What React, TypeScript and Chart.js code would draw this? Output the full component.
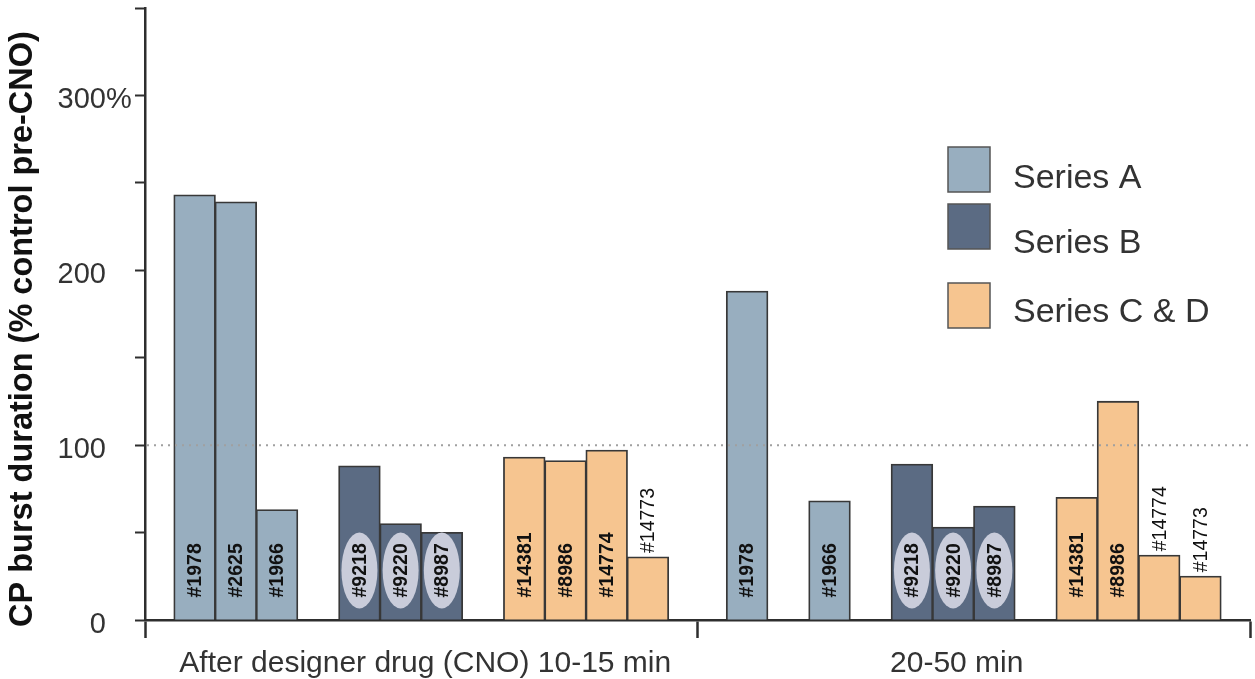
import React, { useEffect, useRef } from "react";
import { Chart, registerables } from "chart.js";

Chart.register(...registerables);

// ---------- data ----------
const categories = ["After designer drug (CNO) 10-15 min", "20-50 min"];

const seriesAIds = ["#1978", "#2625", "#1966"];
const seriesA_10_15 = [243, 239, 63];
const seriesA_20_50 = [188, null, 68];

const seriesBIds = ["#9218", "#9220", "#8987"];
const seriesB_10_15 = [88, 55, 50];
const seriesB_20_50 = [89, 53, 65];

const seriesCIds = ["#14381", "#8986", "#14774", "#14773"];
const seriesC_10_15 = [93, 91, 97, 36];
const seriesC_20_50 = [70, 125, 37, 25];

const legendLabels = ["Series A", "Series B", "Series C & D"];
const yTickValues = [0, 100, 200, 300];
const yTickLabels = ["0", "100", "200", "300"];
const referenceValue = 100;
const yTitle = "CP burst duration (% control pre-CNO)";

// ---------- style ----------
const FONT = "'Liberation Sans', Arial, Helvetica, sans-serif";
const colorA = "#98aebf";
const colorB = "#5b6b83";
const colorC = "#f6c590";
const legendColors = [colorA, colorB, colorC];
const barBorder = "#383838";
const ellipseColor = "#c9ccda";
const axisColor = "#2e2e2e";
const xLabelShift = [4, -17];

type Group = { key: string; ids: string[]; p1: (number | null)[]; p2: (number | null)[]; color: string };

const groups: Group[] = [
  { key: "A", ids: seriesAIds, p1: seriesA_10_15, p2: seriesA_20_50, color: colorA },
  { key: "B", ids: seriesBIds, p1: seriesB_10_15, p2: seriesB_20_50, color: colorB },
  { key: "C", ids: seriesCIds, p1: seriesC_10_15, p2: seriesC_20_50, color: colorC },
];

function buildDatasets() {
  const out: any[] = [];
  groups.forEach((g, gi) => {
    if (gi > 0) {
      out.push({ label: "", data: [null, null], spacer: true });
    }
    g.ids.forEach((id, j) => {
      out.push({
        label: id,
        data: [g.p1[j], g.p2[j]],
        backgroundColor: g.color,
        borderColor: barBorder,
        borderWidth: 1.8,
        inflateAmount: 0.6,
        seriesKey: g.key,
      });
    });
  });
  return out;
}

const decorPlugin = {
  id: "decor",
  afterDatasetsDraw(chart: any) {
    const ctx = chart.ctx as CanvasRenderingContext2D;
    const yScale = chart.scales.y;
    const area = chart.chartArea;

    // dotted reference line
    const ry = yScale.getPixelForValue(referenceValue);
    ctx.save();
    ctx.strokeStyle = "#a0a0a0";
    ctx.lineWidth = 2;
    ctx.setLineDash([2, 5]);
    ctx.beginPath();
    ctx.moveTo(area.left + 2, ry);
    ctx.lineTo(area.right, ry);
    ctx.stroke();
    ctx.restore();

    // bar labels
    chart.data.datasets.forEach((ds: any, di: number) => {
      if (ds.spacer) return;
      const meta = chart.getDatasetMeta(di);
      meta.data.forEach((bar: any, i: number) => {
        const v = ds.data[i];
        if (v == null) return;
        const p = bar.getProps(["x", "y", "base"], true);
        const h = p.base - p.y;
        const inside = h >= 80;
        ctx.save();
        if (inside && ds.seriesKey === "B") {
          ctx.fillStyle = ellipseColor;
          ctx.beginPath();
          ctx.ellipse(p.x, p.base - 49, 18, 38, 0, 0, Math.PI * 2);
          ctx.fill();
        }
        const startY = inside ? p.base - 22 : p.y - 4;
        ctx.translate(p.x, startY);
        ctx.rotate(-Math.PI / 2);
        ctx.textAlign = "left";
        ctx.textBaseline = "middle";
        ctx.fillStyle = "#111";
        ctx.font = (inside ? "bold " : "") + "19.5px " + FONT;
        ctx.fillText(ds.label, 0, 1);
        ctx.restore();
      });
    });
  },
  afterDraw(chart: any) {
    const ctx = chart.ctx as CanvasRenderingContext2D;
    const yScale = chart.scales.y;
    const xScale = chart.scales.x;

    // y tick labels (number right-aligned, % hanging)
    ctx.save();
    ctx.fillStyle = "#333";
    ctx.font = "29px " + FONT;
    ctx.textBaseline = "middle";
    yTickValues.forEach((v, i) => {
      const y = yScale.getPixelForValue(v) + 5;
      ctx.textAlign = "right";
      ctx.fillText(yTickLabels[i], 106, y);
      if (i === yTickValues.length - 1) {
        ctx.textAlign = "left";
        ctx.fillText("%", 106, y);
      }
    });
    ctx.restore();

    // x category labels
    ctx.save();
    ctx.fillStyle = "#333";
    ctx.font = "30px " + FONT;
    ctx.textAlign = "center";
    ctx.textBaseline = "middle";
    categories.forEach((c, i) => {
      ctx.fillText(c, xScale.getPixelForValue(i) + xLabelShift[i], 664);
    });
    ctx.restore();

    // y title
    ctx.save();
    ctx.translate(23, 329);
    ctx.rotate(-Math.PI / 2);
    ctx.textAlign = "center";
    ctx.textBaseline = "middle";
    ctx.fillStyle = "#111";
    ctx.font = "bold 32.5px " + FONT;
    ctx.fillText(yTitle, 0, 0);
    ctx.restore();

    // legend
    const boxX = 948;
    const boxTops = [147, 204, 283];
    const textYs = [179, 244, 313];
    ctx.save();
    legendLabels.forEach((lab, i) => {
      ctx.fillStyle = legendColors[i];
      ctx.fillRect(boxX, boxTops[i], 42, 45);
      ctx.strokeStyle = "#555";
      ctx.lineWidth = 1.5;
      ctx.strokeRect(boxX, boxTops[i], 42, 45);
      ctx.fillStyle = "#333";
      ctx.font = "34px " + FONT;
      ctx.textAlign = "left";
      ctx.textBaseline = "middle";
      ctx.fillText(lab, 1013, textYs[i]);
    });
    ctx.restore();
  },
};

export default function App() {
  const ref = useRef<HTMLCanvasElement | null>(null);
  useEffect(() => {
    if (!ref.current) return;
    const chart = new Chart(ref.current, {
      type: "bar",
      data: { labels: categories, datasets: buildDatasets() },
      options: {
        animation: false,
        responsive: true,
        maintainAspectRatio: false,
        layout: { padding: { left: 0, right: 5, top: 8, bottom: 0 } },
        plugins: { legend: { display: false }, tooltip: { enabled: false } },
        datasets: { bar: { categoryPercentage: 0.895, barPercentage: 1 } },
        scales: {
          x: {
            offset: true,
            grid: {
              offset: true,
              drawOnChartArea: false,
              drawTicks: true,
              tickLength: 18,
              tickWidth: 2.5,
              tickColor: axisColor,
              color: axisColor,
            },
            border: { display: true, color: axisColor, width: 2.5 },
            ticks: { display: false },
            afterFit: (s: any) => {
              s.height = 59;
            },
          },
          y: {
            min: 0,
            max: 350,
            ticks: { stepSize: 50, display: false },
            grid: {
              drawOnChartArea: false,
              drawTicks: true,
              tickLength: 10,
              tickWidth: 2,
              tickColor: axisColor,
              color: axisColor,
            },
            border: { display: true, color: axisColor, width: 2.5 },
            afterFit: (s: any) => {
              s.width = 145;
            },
          },
        },
      },
      plugins: [decorPlugin],
    });
    return () => chart.destroy();
  }, []);
  return (
    <div style={{ position: "absolute", left: 0, top: 0, width: 1255, height: 679, background: "#fff" }}>
      <canvas ref={ref} />
    </div>
  );
}
